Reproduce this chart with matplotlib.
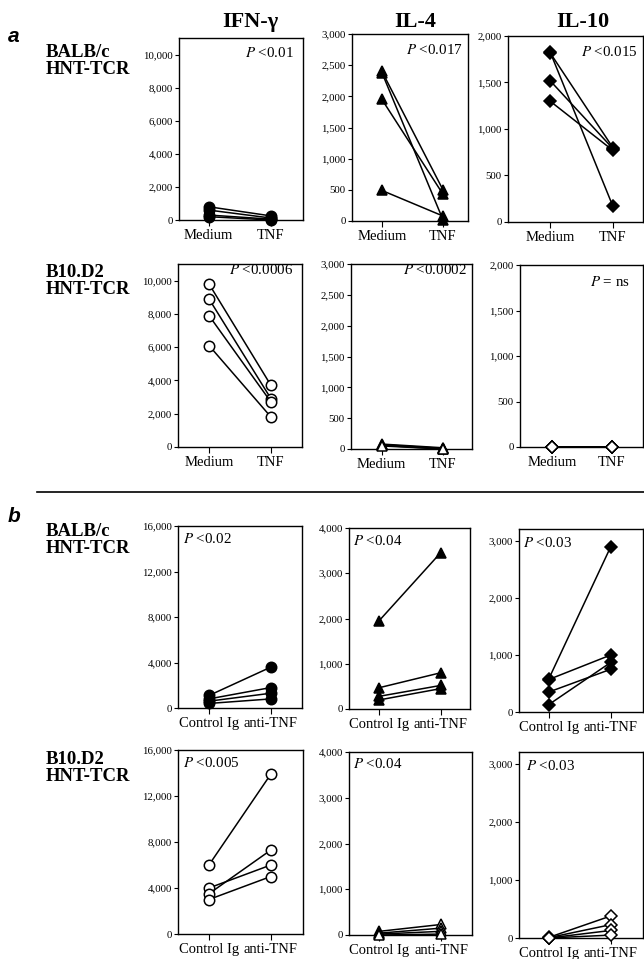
import matplotlib
matplotlib.use("Agg")
import matplotlib.pyplot as plt
from matplotlib.ticker import FuncFormatter, FixedLocator
from matplotlib.lines import Line2D

plt.rcParams['font.family'] = ['Liberation Serif', 'DejaVu Serif']
plt.rcParams['mathtext.fontset'] = 'stix'

# ---------------- data ----------------
cytokines = ["IFN-\u03b3", "IL-4", "IL-10"]
strains = ["BALB/c\nHNT-TCR", "B10.D2\nHNT-TCR"]
conds_a = ["Medium", "TNF"]
conds_b = ["Control Ig", "anti-TNF"]

# panel a: BALB/c (Medium -> TNF)
a_balb_ifn_medium = [800, 600, 300, 200]
a_balb_ifn_tnf = [250, 120, 50, 0]
a_balb_il4_medium = [2400, 2380, 1950, 490]
a_balb_il4_tnf = [500, 20, 430, 80]
a_balb_il10_medium = [1830, 1820, 1520, 1300]
a_balb_il10_tnf = [170, 800, 790, 770]
# panel a: B10.D2
a_b10_ifn_medium = [9800, 8900, 7900, 6100]
a_b10_ifn_tnf = [3700, 2900, 2700, 1800]
a_b10_il4_medium = [80, 70, 60, 50]
a_b10_il4_tnf = [20, 10, 0, 0]
a_b10_il10_medium = [0, 0, 0, 0]
a_b10_il10_tnf = [0, 0, 0, 0]
# panel b: BALB/c (Control Ig -> anti-TNF)
b_balb_ifn_ctrl = [1100, 800, 600, 400]
b_balb_ifn_anti = [3600, 1800, 1300, 800]
b_balb_il4_ctrl = [1950, 470, 280, 200]
b_balb_il4_anti = [3450, 800, 520, 450]
b_balb_il10_ctrl = [580, 570, 350, 130]
b_balb_il10_anti = [2900, 1000, 750, 870]
# panel b: B10.D2
b_b10_ifn_ctrl = [6000, 4000, 3500, 3000]
b_b10_ifn_anti = [13900, 6000, 7300, 5000]
b_b10_il4_ctrl = [80, 40, 20, 0]
b_b10_il4_anti = [230, 150, 80, 20]
b_b10_il10_ctrl = [10, 5, 0, 0]
b_b10_il10_anti = [380, 230, 130, 50]

p_values = [["P <0.01", "P <0.017", "P <0.015"],
            ["P <0.0006", "P <0.0002", "P = ns"],
            ["P <0.02", "P <0.04", "P <0.03"],
            ["P <0.005", "P <0.04", "P <0.03"]]

ylims = [[11000, 3000, 2000], [11000, 3000, 2000],
         [16000, 4000, 3210], [16000, 4000, 3210]]
yticks = [[range(0, 10001, 2000), range(0, 3001, 500), range(0, 2001, 500)],
          [range(0, 10001, 2000), range(0, 3001, 500), range(0, 2001, 500)],
          [range(0, 16001, 4000), range(0, 4001, 1000), range(0, 3001, 1000)],
          [range(0, 16001, 4000), range(0, 4001, 1000), range(0, 3001, 1000)]]

series = [
    [(a_balb_ifn_medium, a_balb_ifn_tnf), (a_balb_il4_medium, a_balb_il4_tnf), (a_balb_il10_medium, a_balb_il10_tnf)],
    [(a_b10_ifn_medium, a_b10_ifn_tnf), (a_b10_il4_medium, a_b10_il4_tnf), (a_b10_il10_medium, a_b10_il10_tnf)],
    [(b_balb_ifn_ctrl, b_balb_ifn_anti), (b_balb_il4_ctrl, b_balb_il4_anti), (b_balb_il10_ctrl, b_balb_il10_anti)],
    [(b_b10_ifn_ctrl, b_b10_ifn_anti), (b_b10_il4_ctrl, b_b10_il4_anti), (b_b10_il10_ctrl, b_b10_il10_anti)],
]

# ---------------- layout (pixels) ----------------
W, H = 644, 959
fig = plt.figure(figsize=(W / 100, H / 100), dpi=100)

def fx(x):
    return x / W

def fy(y):
    return 1 - y / H

# (left, top, right, bottom, xleft, xright)
boxes = [
    [(179, 38, 303, 220, -0.48, 1.52), (352, 34, 468, 221, -0.49, 1.41), (508, 36, 643, 222, -0.67, 1.48)],
    [(178, 264, 302, 447, -0.50, 1.50), (351, 264, 472, 449, -0.50, 1.48), (520, 265, 643, 447, -0.53, 1.52)],
    [(178, 526, 302, 708, -0.50, 1.50), (349, 528, 470, 709, -0.49, 1.48), (519, 529, 643, 712, -0.48, 1.52)],
    [(178, 750, 303, 934, -0.50, 1.52), (349, 752, 472, 935, -0.49, 1.50), (519, 752, 643, 938, -0.48, 1.52)],
]
markers = ['o', '^', 'D']
msizes = [7.5, 7.8, 6.2]
# P text placement: (x px, y px, ha)
p_pos = [
    [(294, 53, 'right'), (463, 50, 'right'), (638, 52, 'right')],
    [(293, 270, 'right'), (467, 270, 'right'), (630, 282, 'right')],
    [(183, 539, 'left'), (353, 541, 'left'), (523, 543, 'left')],
    [(183, 763, 'left'), (353, 764, 'left'), (526, 766, 'left')],
]

fmt = FuncFormatter(lambda v, p: f"{int(v):,}")

for r in range(4):
    filled = (r % 2 == 0)
    xlabels = conds_a if r < 2 else conds_b
    for c in range(3):
        l, t, rr, b, x0, x1 = boxes[r][c]
        ax = fig.add_axes([fx(l), fy(b), fx(rr) - fx(l), fy(t) - fy(b)])
        m_vals, t_vals = series[r][c]
        for mv, tv in zip(m_vals, t_vals):
            ax.plot([0, 1], [mv, tv], color='black', lw=1.1,
                    marker=markers[c], ms=msizes[c],
                    mfc='black' if filled else 'white', mec='black', mew=1.1,
                    clip_on=False, zorder=3)
        ax.set_xlim(x0, x1)
        ax.set_ylim(0, ylims[r][c])
        ax.yaxis.set_major_locator(FixedLocator(list(yticks[r][c])))
        ax.yaxis.set_major_formatter(fmt)
        ax.set_xticks([0, 1])
        ax.set_xticklabels(xlabels, fontsize=10.5)
        ax.tick_params(axis='y', direction='out', length=3, width=0.8,
                       labelsize=7.8, pad=1.5)
        ax.tick_params(axis='x', direction='out', length=4, width=0.8, pad=2.5)
        for s in ax.spines.values():
            s.set_linewidth(1.0)
        px, py, ha = p_pos[r][c]
        txt = p_values[r][c].replace("P", r"$P$", 1)
        fig.text(fx(px), fy(py), txt, ha=ha, va='center', fontsize=10.8)

# column titles
for name, xc in zip(cytokines, [250, 415, 583]):
    fig.text(fx(xc), fy(22), name, ha='center', va='center',
             fontsize=16, fontweight='bold')

# row labels
for lab, y in zip(strains * 2, [61, 281, 540, 768]):
    fig.text(fx(46), fy(y), lab, ha='left', va='center', fontsize=13.5,
             fontweight='bold', linespacing=1.0)

# panel letters
fig.text(fx(8), fy(37), "a", ha='left', va='center', fontsize=15,
         fontweight='bold', fontstyle='italic', family='Liberation Sans')
fig.text(fx(8), fy(516), "b", ha='left', va='center', fontsize=15,
         fontweight='bold', fontstyle='italic', family='Liberation Sans')

# separator line
fig.add_artist(Line2D([fx(37), fx(644)], [fy(492), fy(492)], color='black', lw=1.2))

fig.savefig("out.png", dpi=100)
